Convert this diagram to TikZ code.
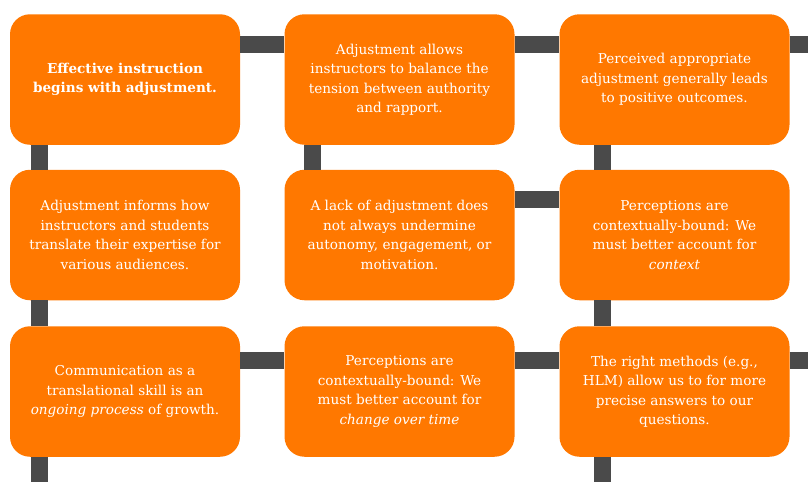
\documentclass[tikz,border=0pt]{standalone}
\usepackage{fontspec}
\setmainfont{DejaVu Serif}
\definecolor{boxorange}{HTML}{FF7800}
\definecolor{bargray}{HTML}{4A4A4A}
\begin{document}
\begin{tikzpicture}[x=1pt,y=-1pt,
  card/.style={fill=boxorange, draw=none, rounded corners=20pt, minimum width=230pt,
    minimum height=130.5pt, inner sep=0pt, text=white, align=center,
    font=\fontsize{13.6}{19.5}\selectfont},
  bar/.style={draw=bargray, line width=17pt}]
\useasboundingbox (0,0) rectangle (808,482);
\node[card] (b11) at (125,79.5) {\textbf{Effective instruction}\\\textbf{begins with adjustment.}};
\node[card] (b12) at (399.5,79.5) {Adjustment allows\\instructors to balance the\\tension between authority\\and rapport.};
\node[card] (b13) at (674.5,79.5) {Perceived appropriate\\adjustment generally leads\\to positive outcomes.};
\node[card] (b21) at (125,235) {Adjustment informs how\\instructors and students\\translate their expertise for\\various audiences.};
\node[card] (b22) at (399.5,235) {A lack of adjustment does\\not always undermine\\autonomy, engagement, or\\motivation.};
\node[card] (b23) at (674.5,235) {Perceptions are\\contextually-bound: We\\must better account for\\\textit{context}};
\node[card] (b31) at (125,391.5) {Communication as a\\translational skill is an\\\textit{ongoing process} of growth.};
\node[card] (b32) at (399.5,391.5) {Perceptions are\\contextually-bound: We\\must better account for\\\textit{change over time}};
\node[card] (b33) at (674.5,391.5) {The right methods (e.g.,\\HLM) allow us to for more\\precise answers to our\\questions.};
\coordinate (e1) at (808,44);
\coordinate (e3) at (808,360);
\coordinate (c1) at (39.5,482);
\coordinate (c3) at (602,482);
% row connectors
\draw[bar] ([yshift=35.5pt]b11.east) -- ([yshift=35.5pt]b12.west);
\draw[bar] ([yshift=35.5pt]b12.east) -- ([yshift=35.5pt]b13.west);
\draw[bar] ([yshift=35.5pt]b13.east) -- (e1);
\draw[bar] ([yshift=35.5pt]b22.east) -- ([yshift=35.5pt]b23.west);
\draw[bar] ([yshift=31.5pt]b31.east) -- ([yshift=31.5pt]b32.west);
\draw[bar] ([yshift=31.5pt]b32.east) -- ([yshift=31.5pt]b33.west);
\draw[bar] ([yshift=31.5pt]b33.east) -- (e3);
% column connectors
\draw[bar] ([xshift=-85.5pt]b11.south) -- ([xshift=-85.5pt]b21.north);
\draw[bar] ([xshift=-85.5pt]b21.south) -- ([xshift=-85.5pt]b31.north);
\draw[bar] ([xshift=-85.5pt]b31.south) -- (c1);
\draw[bar] ([xshift=-87.5pt]b12.south) -- ([xshift=-87.5pt]b22.north);
\draw[bar] ([xshift=-72.5pt]b13.south) -- ([xshift=-72.5pt]b23.north);
\draw[bar] ([xshift=-72.5pt]b23.south) -- ([xshift=-72.5pt]b33.north);
\draw[bar] ([xshift=-72.5pt]b33.south) -- (c3);
\end{tikzpicture}
\end{document}
